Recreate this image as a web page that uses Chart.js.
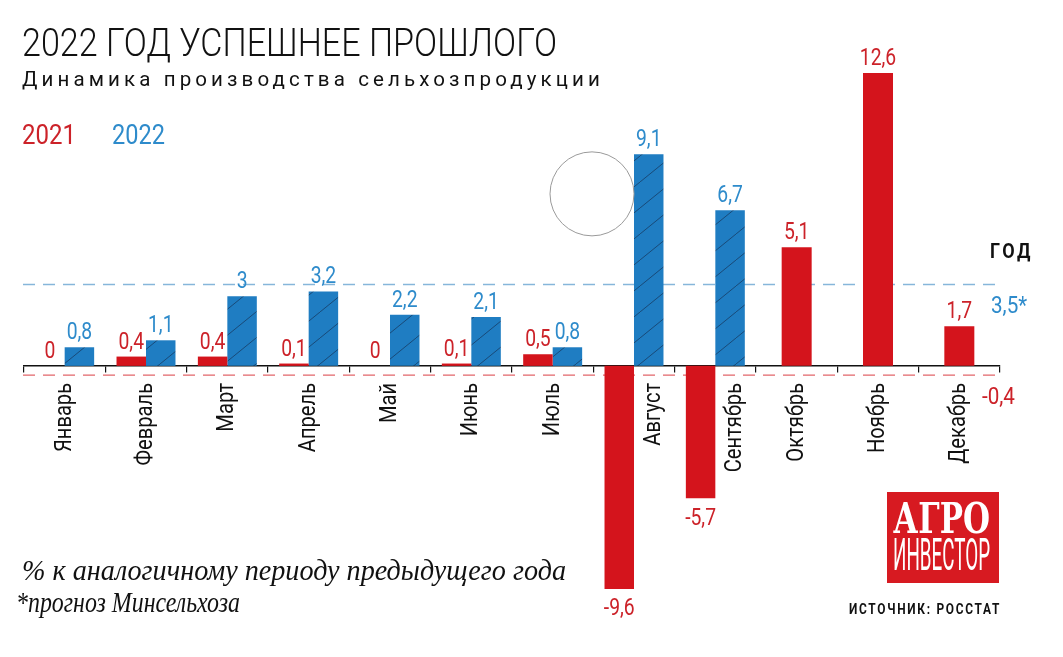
<!DOCTYPE html>
<html lang="ru">
<head>
<meta charset="utf-8">
<title>2022 год успешнее прошлого</title>
<script src="https://cdn.jsdelivr.net/npm/chart.js@4.4.1/dist/chart.umd.min.js"></script>
<style>
  html, body { margin: 0; padding: 0; background: #fff; }
  #wrap { position: relative; width: 1063px; height: 657px; overflow: hidden; }
  #wrap canvas, #wrap svg { position: absolute; left: 0; top: 0; }
</style>
</head>
<body>
<div id="wrap">
  <canvas id="chart" width="1063" height="657"></canvas>
  <svg width="1063" height="657" xmlns="http://www.w3.org/2000/svg">
    <text x="22" y="56" textLength="535" lengthAdjust="spacingAndGlyphs"
      font-family="Roboto" font-weight="300" font-size="38" fill="#111">2022 ГОД УСПЕШНЕЕ ПРОШЛОГО</text>
    <text x="22" y="86" textLength="582" lengthAdjust="spacingAndGlyphs" letter-spacing="4"
      font-family="Roboto" font-size="20" fill="#111">Динамика производства сельхозпродукции</text>
    <text x="22" y="144" textLength="54" lengthAdjust="spacingAndGlyphs"
      font-family="Roboto" font-size="27" fill="#cc2229">2021</text>
    <text x="112" y="144" textLength="53" lengthAdjust="spacingAndGlyphs"
      font-family="Roboto" font-size="27" fill="#2e8bcb">2022</text>
    <text x="22" y="580" textLength="544" lengthAdjust="spacingAndGlyphs"
      font-family="'Liberation Serif', 'DejaVu Serif', serif" font-style="italic" font-size="29" fill="#111">% к аналогичному периоду предыдущего года</text>
    <text x="16" y="612" textLength="224" lengthAdjust="spacingAndGlyphs"
      font-family="'Liberation Serif', 'DejaVu Serif', serif" font-style="italic" font-size="29" fill="#111">*прогноз Минсельхоза</text>
    <rect x="887" y="492" width="112" height="91" fill="#d71a21"></rect>
    <text x="893" y="533" textLength="97" lengthAdjust="spacingAndGlyphs"
      font-family="'DejaVu Serif', serif" font-weight="bold" font-size="42" fill="#fff">АГРО</text>
    <text x="893" y="570" textLength="97" lengthAdjust="spacingAndGlyphs"
      font-family="Roboto" font-size="44" fill="#fff">ИНВЕСТОР</text>
    <text x="849" y="614" textLength="152" lengthAdjust="spacingAndGlyphs" letter-spacing="2"
      font-family="Roboto" font-weight="bold" font-size="14" fill="#111">ИСТОЧНИК: РОССТАТ</text>
  </svg>
</div>
<script>
"use strict";

const months = ["Январь", "Февраль", "Март", "Апрель", "Май", "Июнь",
  "Июль", "Август", "Сентябрь", "Октябрь", "Ноябрь", "Декабрь"];
const values_2021 = [0, 0.4, 0.4, 0.1, 0, 0.1, 0.5, -9.6, -5.7, 5.1, 12.6, 1.7];
const values_2022 = [0.8, 1.1, 3, 3.2, 2.2, 2.1, 0.8, 9.1, 6.7, null, null, null];
const year_2022_forecast = 3.5;
const year_2021_total = -0.4;

const red = "#d4141c";
const red_text = "#cc2229";
const blue = "#1f7dc2";
const blue_text = "#2e8bcb";

// штриховка для синих столбцов
function hatch_pattern(fill, line) {
  const c = document.createElement("canvas");
  c.width = 32;
  c.height = 26;
  const g = c.getContext("2d");
  g.fillStyle = fill;
  g.fillRect(0, 0, 32, 26);
  g.strokeStyle = line;
  g.lineWidth = 1;
  g.beginPath();
  g.moveTo(-4, 29.25);
  g.lineTo(36, -3.25);
  g.stroke();
  return g.createPattern(c, "repeat");
}

function fmt(v) {
  return String(v).replace(".", ",");
}

// узкий шрифт: Roboto сжимаем по горизонтали
function narrow_text(ctx, text, x, y, opts) {
  ctx.save();
  ctx.translate(x, y);
  if (opts.rotate) ctx.rotate(opts.rotate);
  ctx.scale(opts.squeeze || 0.82, 1);
  ctx.font = opts.font;
  ctx.fillStyle = opts.color;
  ctx.textAlign = opts.align || "center";
  ctx.textBaseline = opts.baseline || "alphabetic";
  if (opts.spacing) ctx.letterSpacing = opts.spacing;
  ctx.fillText(text, 0, 0);
  ctx.restore();
}

const lines_plugin = {
  id: "year_lines",
  beforeDatasetsDraw(chart) {
    const { ctx, chartArea, scales } = chart;
    const draw_line = (value, color) => {
      const y = scales.y.getPixelForValue(value);
      ctx.save();
      ctx.strokeStyle = color;
      ctx.lineWidth = 1.3;
      ctx.setLineDash([12, 8]);
      ctx.beginPath();
      ctx.moveTo(chartArea.left - 1, y);
      ctx.lineTo(chartArea.right + 2, y);
      ctx.stroke();
      ctx.restore();
    };
    draw_line(year_2022_forecast, "#86b6da");
    draw_line(year_2021_total, "#e2656a");
  },
};

const labels_plugin = {
  id: "bar_labels",
  afterDatasetsDraw(chart) {
    const { ctx, chartArea, scales } = chart;
    const series = [values_2021, values_2022];
    const colors = [red_text, blue_text];
    const zero = scales.y.getPixelForValue(0);

    series.forEach((values, ds) => {
      const meta = chart.getDatasetMeta(ds);
      values.forEach((v, i) => {
        if (v === null) return;
        const bar = meta.data[i];
        if (v >= 0) {
          narrow_text(ctx, fmt(v), bar.x, Math.min(bar.y, zero) - 8,
            { font: "23px Roboto", color: colors[ds], squeeze: 0.84 });
        } else {
          narrow_text(ctx, fmt(v), bar.x, bar.y + 9,
            { font: "23px Roboto", color: colors[ds], baseline: "top", squeeze: 0.84 });
        }
      });
    });

    // подписи месяцев
    const meta_2022 = chart.getDatasetMeta(1);
    months.forEach((m, i) => {
      let x = scales.x.getPixelForValue(i);
      if (values_2021[i] < 0 && values_2022[i] !== null) {
        x = meta_2022.data[i].x + 5;
      }
      narrow_text(ctx, m, x, zero + 17, {
        font: "24px Roboto", color: "#111", rotate: -Math.PI / 2,
        align: "right", baseline: "middle", squeeze: 0.84,
      });
    });

    // годовые итоги справа
    const y_forecast = scales.y.getPixelForValue(year_2022_forecast);
    const y_total = scales.y.getPixelForValue(year_2021_total);
    narrow_text(ctx, "ГОД", chartArea.right - 10, y_forecast - 27,
      { font: "bold 20px Roboto", color: "#111", align: "left", squeeze: 0.9, spacing: "3px" });
    narrow_text(ctx, fmt(year_2022_forecast) + "*", chartArea.right - 9, y_forecast + 28,
      { font: "24px Roboto", color: blue_text, align: "left", squeeze: 0.86 });
    narrow_text(ctx, fmt(year_2021_total), chartArea.right - 18, y_total + 29,
      { font: "24px Roboto", color: red_text, align: "left", squeeze: 0.86 });

    // кружок возле августа
    ctx.save();
    ctx.strokeStyle = "#9a9a9a";
    ctx.lineWidth = 1;
    ctx.beginPath();
    ctx.arc(scales.x.getPixelForValue(7) - 42, scales.y.getPixelForValue(7.4), 42, 0, Math.PI * 2);
    ctx.stroke();
    ctx.restore();
  },
};

const data = {
  labels: months,
  datasets: [
    { label: "2021", data: values_2021, backgroundColor: red },
    { label: "2022", data: values_2022, backgroundColor: hatch_pattern(blue, "#194a78") },
  ],
};

const config = {
  type: "bar",
  data: data,
  options: {
    responsive: false,
    devicePixelRatio: 1,
    animation: false,
    layout: { padding: { top: 73, bottom: 68, left: 24, right: 63 } },
    datasets: {
      bar: {
        skipNull: true,
        categoryPercentage: 0.725,
        barPercentage: 1,
        maxBarThickness: 30,
        borderWidth: 0,
      },
    },
    scales: {
      x: {
        position: { y: 0 },
        z: 1,
        grid: { drawOnChartArea: false, drawTicks: true, tickLength: 6, color: "#111", lineWidth: 1.2 },
        border: { display: true, color: "#111", width: 1.5 },
        ticks: { display: false },
      },
      y: {
        display: false,
        min: -9.6,
        max: 12.6,
      },
    },
    plugins: {
      legend: { display: false },
      tooltip: { enabled: false },
    },
  },
  plugins: [lines_plugin, labels_plugin],
};

new Chart(document.getElementById("chart"), config);
</script>
</body>
</html>
